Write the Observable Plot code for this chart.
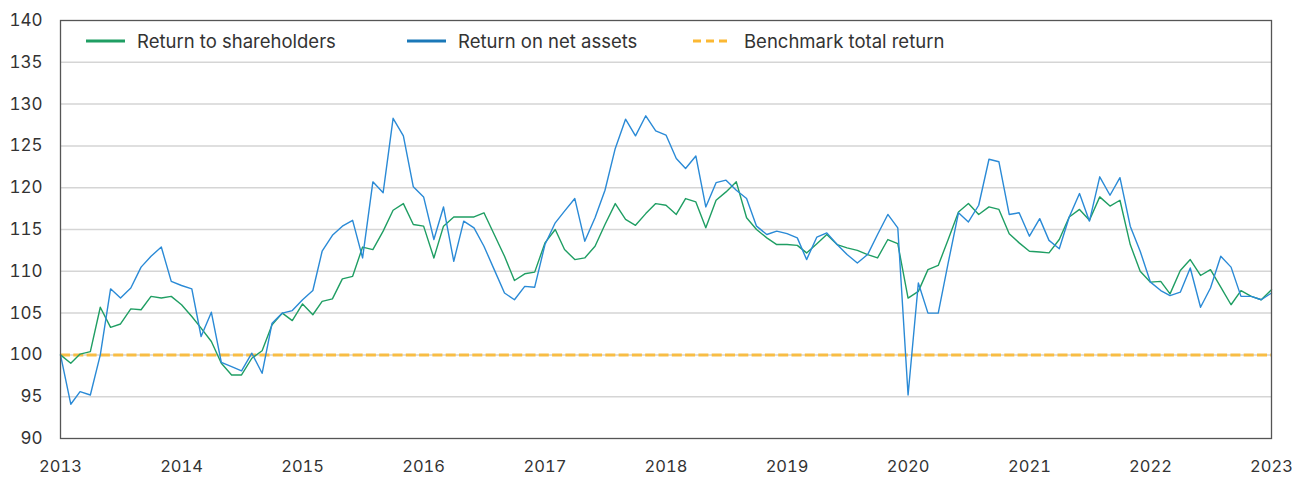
<!DOCTYPE html>
<html>
<head>
<meta charset="utf-8">
<script src="https://cdn.jsdelivr.net/npm/d3@7"></script>
<script src="https://cdn.jsdelivr.net/npm/@observablehq/plot@0.6"></script>
<style>
  html, body { margin: 0; padding: 0; background: #fff; }
  #wrap { position: relative; width: 1292px; height: 477px; font-family: Inter, "Noto Sans", sans-serif; color: #333; }
  .leg { position: absolute; top: 29px; height: 24px; display: flex; align-items: center; font-size: 18.5px; white-space: nowrap; }
  .leg svg { margin-right: 12px; }
</style>
</head>
<body>
<div id="wrap"></div>
<script>
// Monthly index values, Jan 2013 .. Jan 2023 (121 months)
const startYear = 2013;
const endYear = 2023;
const returnToShareholders = [
  100.0, 99.0, 100.1, 100.4, 105.7, 103.3, 103.7, 105.5, 105.4, 107.0, 106.8, 107.0,
  106.0, 104.6, 103.2, 101.6, 99.0, 97.6, 97.6, 99.6, 100.5, 103.6, 105.0, 104.1,
  106.1, 104.8, 106.4, 106.7, 109.1, 109.4, 112.9, 112.6, 114.8, 117.3, 118.1, 115.6,
  115.4, 111.6, 115.4, 116.5, 116.5, 116.5, 117.0, 114.4, 111.8, 108.9, 109.7, 109.9,
  113.4, 115.0, 112.6, 111.4, 111.6, 113.0, 115.6, 118.1, 116.2, 115.5, 116.9, 118.1,
  117.9, 116.8, 118.7, 118.3, 115.2, 118.5, 119.5, 120.7, 116.4, 115.0, 114.0, 113.2,
  113.2, 113.1, 112.2, 113.3, 114.4, 113.2, 112.8, 112.5, 112.0, 111.6, 113.8, 113.3,
  106.8, 107.6, 110.2, 110.7, 113.8, 117.1, 118.1, 116.8, 117.7, 117.4, 114.5, 113.4,
  112.4, 112.3, 112.2, 113.8, 116.5, 117.4, 116.1, 118.9, 117.8, 118.5, 113.2, 110.0,
  108.7, 108.8, 107.3, 110.1, 111.4, 109.5, 110.2, 108.1, 106.0, 107.7, 107.0, 106.6,
  107.8
];
const returnOnNetAssets = [
  100.0, 94.1, 95.6, 95.2, 100.0, 107.9, 106.8, 108.0, 110.5, 111.8, 112.9, 108.8,
  108.3, 107.9, 102.2, 105.1, 99.1, 98.6, 98.1, 100.2, 97.8, 103.8, 105.0, 105.3,
  106.6, 107.7, 112.4, 114.3, 115.4, 116.1, 111.6, 120.7, 119.4, 128.3, 126.2, 120.1,
  118.9, 113.8, 117.7, 111.2, 116.0, 115.2, 113.0, 110.2, 107.4, 106.6, 108.2, 108.1,
  113.2, 115.8, 117.2, 118.7, 113.6, 116.4, 119.7, 124.7, 128.2, 126.2, 128.6, 126.8,
  126.3, 123.5, 122.3, 123.8, 117.7, 120.6, 120.9, 119.7, 118.7, 115.4, 114.4, 114.8,
  114.5, 114.0, 111.4, 114.1, 114.6, 113.2, 112.0, 111.0, 112.0, 114.4, 116.8, 115.2,
  95.2, 108.6, 105.0, 105.0, 111.0, 117.0, 115.9, 117.9, 123.4, 123.1, 116.8, 117.0,
  114.2, 116.3, 113.7, 112.7, 116.5, 119.3, 116.0, 121.3, 119.1, 121.2, 115.4, 112.4,
  108.7, 107.7, 107.1, 107.5, 110.4, 105.7, 108.0, 111.8, 110.5, 107.0, 107.0, 106.6,
  107.4
];
const benchmarkLevel = [100];
const yTicks = [90, 95, 100, 105, 110, 115, 120, 125, 130, 135, 140];
const gridValues = [95, 100, 105, 110, 115, 120, 125, 130, 135];
const seriesNames = ["Return to shareholders", "Return on net assets", "Benchmark total return"];
const colors = { green: "#1f9e63", blue: "#2a8ad6", orange: "#f8bd45", legendBlue: "#1a78b8", legendOrange: "#fbb833" };

const months = returnToShareholders.map((_, i) => new Date(Date.UTC(startYear, i, 1)));
const rows = months.map((d, i) => ({ date: d, rts: returnToShareholders[i], rona: returnOnNetAssets[i] }));
const yearTicks = d3.range(startYear, endYear + 1).map(y => new Date(Date.UTC(y, 0, 1)));

const chart = Plot.plot({
  width: 1292,
  height: 477,
  marginLeft: 60,
  marginRight: 21,
  marginTop: 20,
  marginBottom: 39,
  style: { fontFamily: "Inter, 'Noto Sans', sans-serif", fontSize: "17px", color: "#333", background: "#fff" },
  x: {
    type: "utc",
    domain: [new Date(Date.UTC(startYear, 0, 1)), new Date(Date.UTC(endYear, 0, 1))],
    label: null
  },
  y: {
    domain: [90, 140],
    label: null
  },
  marks: [
    Plot.ruleY(gridValues, { stroke: "#d5d5d5", strokeWidth: 1.5 }),
    Plot.ruleY(benchmarkLevel, { stroke: colors.orange, strokeWidth: 3, strokeDasharray: "10,3.3" }),
    Plot.line(rows, { x: "date", y: "rts", stroke: colors.green, strokeWidth: 1.4 }),
    Plot.line(rows, { x: "date", y: "rona", stroke: colors.blue, strokeWidth: 1.4 }),
    Plot.frame({ stroke: "#555", strokeWidth: 1.3 }),
    Plot.axisX({ ticks: yearTicks, tickFormat: d3.utcFormat("%Y"), tickSize: 0, tickPadding: 22, fontSize: 16.5, label: null }),
    Plot.axisY({ ticks: yTicks, tickSize: 0, tickPadding: 18, fontSize: 17, label: null })
  ]
});

const wrap = document.getElementById("wrap");
wrap.appendChild(chart);

const legendItems = [
  { name: seriesNames[0], color: colors.green, dash: null, left: 86 },
  { name: seriesNames[1], color: colors.legendBlue, dash: null, left: 407 },
  { name: seriesNames[2], color: colors.legendOrange, dash: "8,5", left: 693 }
];
for (const it of legendItems) {
  const div = document.createElement("div");
  div.className = "leg";
  div.style.left = it.left + "px";
  const sw = `<svg width="39" height="6"><line x1="0" x2="39" y1="3" y2="3" stroke="${it.color}" stroke-width="3" ${it.dash ? `stroke-dasharray="${it.dash}"` : ""}/></svg>`;
  div.innerHTML = sw + `<span>${it.name}</span>`;
  wrap.appendChild(div);
}
</script>
</body>
</html>
